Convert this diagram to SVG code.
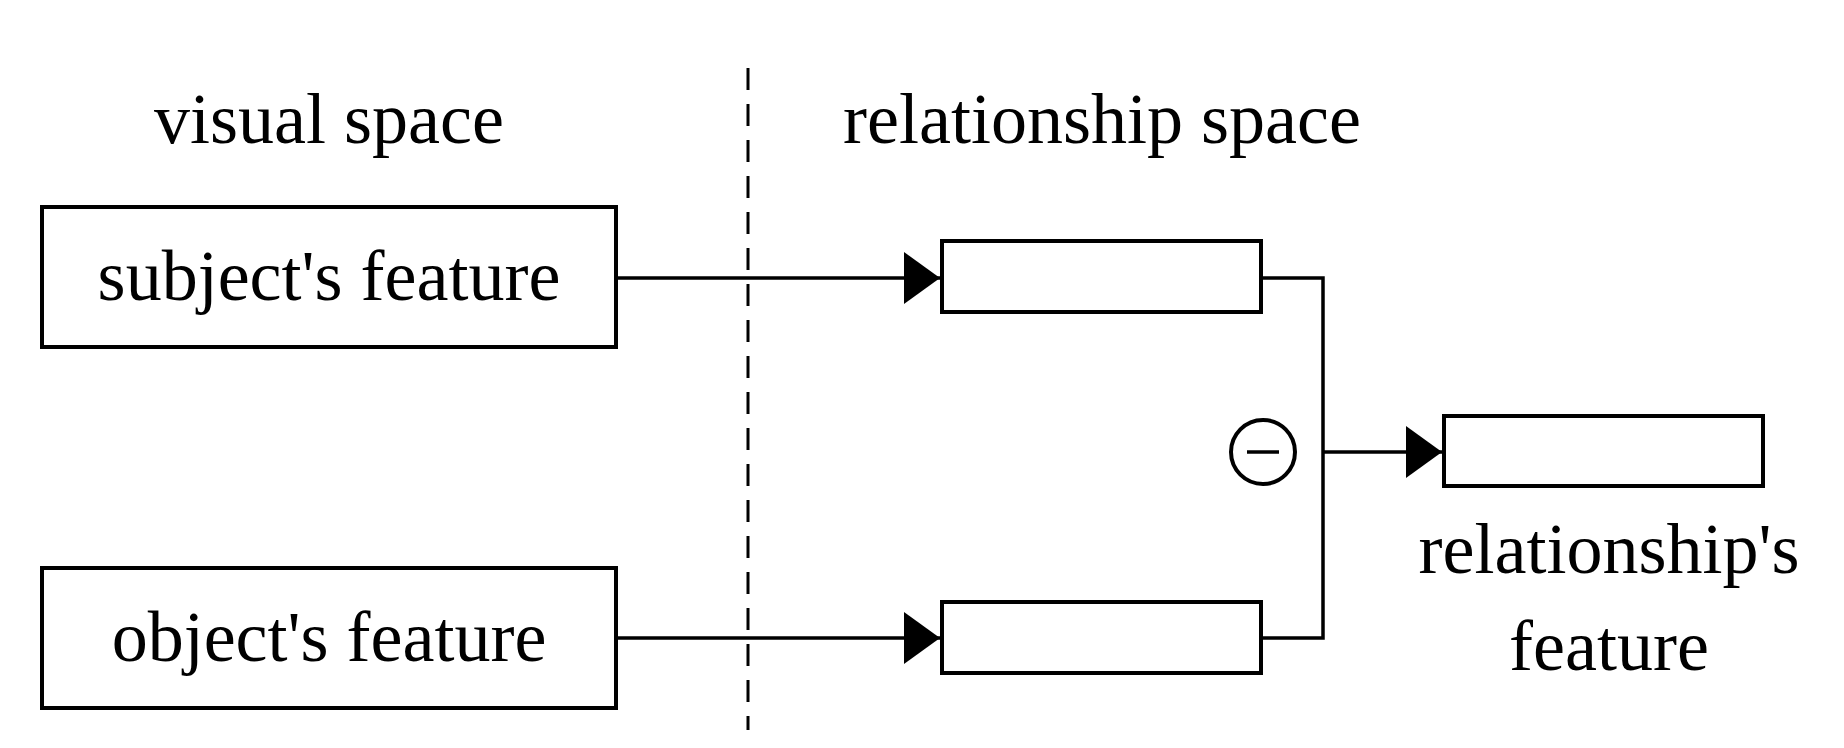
<svg xmlns="http://www.w3.org/2000/svg" width="1844" height="748" viewBox="0 0 1844 748">
<style>
text{font-family:"Liberation Serif","Times New Roman",serif;font-size:72px;fill:#000;text-anchor:middle}
.b{fill:#fff;stroke:#000;stroke-width:4}
.l{fill:none;stroke:#000;stroke-width:3.5}
</style>
<defs>
<marker id="ah" viewBox="0 0 10 10" refX="10" refY="5" markerWidth="36" markerHeight="52" orient="auto" markerUnits="userSpaceOnUse" preserveAspectRatio="none"><path d="M0,0L10,5L0,10z" fill="#000"/></marker></defs>
<line x1="748" y1="68" x2="748" y2="730" stroke="#000" stroke-width="3" stroke-dasharray="22,14"/>
<text x="329" y="143">visual space</text>
<text x="1102" y="143">relationship space</text>
<g id="subject"><rect class="b" x="42" y="207" width="574" height="140"/><text x="329" y="300">subject's feature</text></g>
<g id="object"><rect class="b" x="42" y="568" width="574" height="140"/><text x="329" y="661">object's feature</text></g>
<g id="s2"><rect class="b" x="942" y="241" width="319" height="71"/></g>
<g id="o2"><rect class="b" x="942" y="602" width="319" height="71"/></g>
<g id="minus"><circle class="b" cx="1263" cy="452" r="32" stroke-width="3"/><line x1="1247" y1="452" x2="1279" y2="452" stroke="#000" stroke-width="3.5"/></g>
<g id="out"><rect class="b" x="1444" y="416" width="319" height="70"/><text x="1609" y="573">relationship's</text><text x="1609" y="670">feature</text></g>
<g id="connectors">
<line class="l" x1="616" y1="278" x2="940" y2="278" marker-end="url(#ah)"/>
<line class="l" x1="616" y1="638" x2="940" y2="638" marker-end="url(#ah)"/>
<polyline class="l" points="1261,278 1323,278 1323,638 1261,638"/>
<line class="l" x1="1323" y1="452" x2="1442" y2="452" marker-end="url(#ah)"/>
</g>
</svg>
